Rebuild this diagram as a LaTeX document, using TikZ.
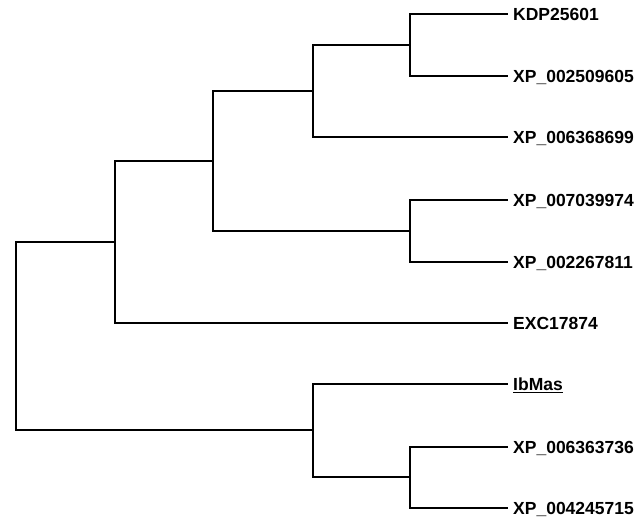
\documentclass[tikz,border=0pt]{standalone}
\usepackage{fontspec}
\setmainfont{Liberation Sans}
\begin{document}
\begin{tikzpicture}[x=1pt,y=-1pt,
  br/.style={line width=2.2pt, line join=miter},
  lab/.style={anchor=base west, inner sep=0pt, font=\fontsize{17.5}{19}\selectfont\bfseries}]
\useasboundingbox (0,0) rectangle (640,518);
% leaf ends
\coordinate (t1) at (508,14);
\coordinate (t2) at (508,76);
\coordinate (t3) at (508,137);
\coordinate (t4) at (508,200);
\coordinate (t5) at (508,262);
\coordinate (t6) at (508,323);
\coordinate (t7) at (508,384);
\coordinate (t8) at (508,447);
\coordinate (t9) at (508,508);
% labels
\node[lab] (n1) at (513,20.5) {KDP25601};
\node[lab] (n2) at (513,82.5) {XP\_002509605};
\node[lab] (n3) at (513,143.5) {XP\_006368699};
\node[lab] (n4) at (513,206.5) {XP\_007039974};
\node[lab] (n5) at (513,268.5) {XP\_002267811};
\node[lab] (n6) at (513,329.5) {EXC17874};
\node[lab] (n7) at (513,390.5) {\underline{IbMas}};
\node[lab] (n8) at (513,453.5) {XP\_006363736};
\node[lab] (n9) at (513,514.5) {XP\_004245715};
% internal nodes
\coordinate (a) at (410,45);
\coordinate (b) at (313,91);
\coordinate (c) at (410,231);
\coordinate (d) at (213,161);
\coordinate (e) at (115,242);
\coordinate (f) at (410,477);
\coordinate (g) at (313,430);
\coordinate (r) at (16,336);
% branches
\draw[br] (a) |- (t1);
\draw[br] (a) |- (t2);
\draw[br] (b) |- (a);
\draw[br] (b) |- (t3);
\draw[br] (c) |- (t4);
\draw[br] (c) |- (t5);
\draw[br] (d) |- (b);
\draw[br] (d) |- (c);
\draw[br] (e) |- (d);
\draw[br] (e) |- (t6);
\draw[br] (f) |- (t8);
\draw[br] (f) |- (t9);
\draw[br] (g) |- (t7);
\draw[br] (g) |- (f);
\draw[br] (r) |- (e);
\draw[br] (r) |- (g);
\end{tikzpicture}
\end{document}
